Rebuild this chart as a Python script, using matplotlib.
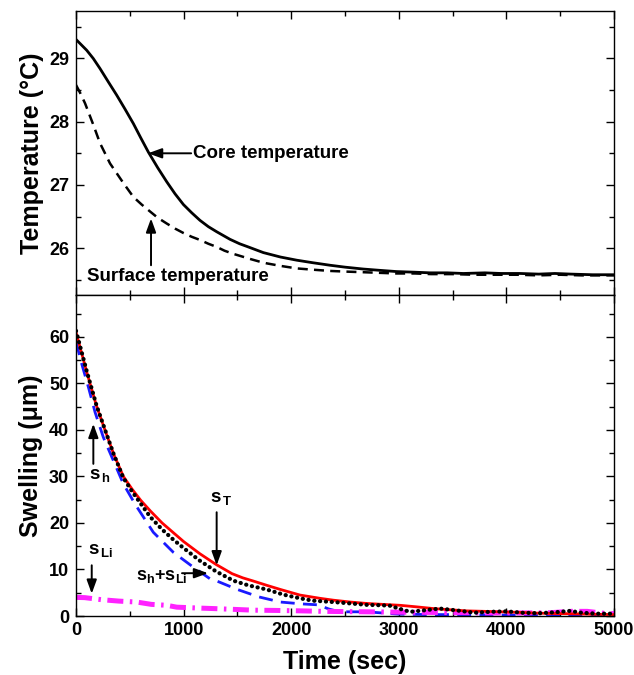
import matplotlib
matplotlib.use("Agg")
import matplotlib.pyplot as plt
from matplotlib.ticker import MultipleLocator

plt.rcParams['font.family'] = ['Liberation Sans', 'DejaVu Sans']
plt.rcParams['font.weight'] = 'bold'
plt.rcParams['mathtext.fontset'] = 'custom'
plt.rcParams['mathtext.rm'] = 'Liberation Sans:bold'
plt.rcParams['mathtext.bf'] = 'Liberation Sans:bold'
plt.rcParams['mathtext.it'] = 'Liberation Sans:bold'

# ---- Temperature data ----
t_core = [0, 99, 160, 223, 300, 378, 455, 533, 600, 672, 760, 843, 920, 998, 1075,
          1152, 1230, 1307, 1431, 1520, 1600, 1741, 1900, 2051, 2200, 2361, 2500,
          2670, 2820, 2980, 3150, 3290, 3450, 3600, 3800, 3950, 4126, 4300, 4450,
          4600, 4800, 5000]
T_core = [29.30, 29.13, 29.00, 28.84, 28.63, 28.42, 28.20, 27.97, 27.75, 27.52,
          27.27, 27.05, 26.86, 26.69, 26.56, 26.44, 26.34, 26.26, 26.14, 26.07,
          26.02, 25.93, 25.86, 25.81, 25.77, 25.73, 25.70, 25.67, 25.65, 25.63,
          25.62, 25.61, 25.61, 25.60, 25.61, 25.60, 25.60, 25.59, 25.60, 25.59,
          25.58, 25.58]

t_surf = [0, 40, 84, 161, 223, 316, 440, 533, 610, 688, 760, 843, 920, 998, 1075,
          1152, 1230, 1307, 1380, 1462, 1540, 1617, 1700, 1772, 1900, 2051, 2200,
          2361, 2500, 2670, 2820, 2980, 3150, 3300, 3500, 3700, 3900, 4100, 4300,
          4500, 4700, 5000]
T_surf = [28.58, 28.45, 28.29, 27.95, 27.66, 27.34, 27.03, 26.81, 26.69, 26.58,
          26.48, 26.39, 26.31, 26.24, 26.18, 26.13, 26.07, 26.02, 25.96, 25.91,
          25.87, 25.83, 25.79, 25.76, 25.72, 25.68, 25.66, 25.64, 25.63, 25.62,
          25.61, 25.60, 25.60, 25.59, 25.59, 25.58, 25.58, 25.58, 25.57, 25.58,
          25.57, 25.57]

# ---- Swelling data ----
t_T = [0, 100, 190, 270, 350, 440, 520, 600, 690, 800, 900, 1000, 1150, 1300, 1450,
       1550, 1650, 1772, 1900, 2082, 2268, 2392, 2550, 2701, 2850, 3011, 3150, 3321,
       3500, 3631, 3800, 3941, 4100, 4250, 4400, 4560, 4750, 5000]
s_T = [61.0, 52.4, 45.2, 39.9, 34.8, 30.0, 27.3, 24.9, 22.6, 20.0, 18.0, 16.0, 13.4,
       11.1, 9.1, 8.2, 7.5, 6.6, 5.7, 4.5, 3.8, 3.4, 3.0, 2.7, 2.5, 2.3, 2.0, 1.6,
       1.3, 1.1, 1.0, 0.9, 0.8, 0.65, 0.55, 0.5, 0.4, 0.3]

t_sum = [0, 100, 190, 270, 350, 440, 520, 600, 690, 800, 900, 1000, 1150, 1300,
         1462, 1600, 1772, 1927, 2082, 2200, 2392, 2550, 2701, 2850, 2918, 3000,
         3104, 3228, 3383, 3538, 3700, 3850, 4000, 4150, 4300, 4450, 4591, 4700,
         4850, 5000]
s_sum = [61.3, 52.6, 45.3, 40.0, 34.8, 29.7, 26.8, 24.2, 21.3, 18.6, 16.5, 14.6,
         11.9, 9.6, 7.6, 6.6, 5.7, 4.6, 3.8, 3.3, 3.0, 2.7, 2.4, 2.3, 2.2, 1.6, 0.9,
         1.2, 1.6, 1.2, 0.7, 0.9, 1.0, 0.7, 0.6, 0.8, 1.1, 0.7, 0.5, 0.5]

t_h = [0, 53, 115, 177, 254, 347, 440, 550, 718, 904, 1090, 1245, 1300, 1500, 1700,
       1900, 2100, 2250, 2350, 2450, 2700, 3000, 3300, 3600, 4000, 4500, 5000]
s_h = [59.0, 54.2, 49.2, 43.8, 38.4, 33.4, 28.4, 24.0, 18.0, 13.7, 10.5, 8.0, 7.6,
       5.7, 4.1, 3.0, 2.6, 2.4, 1.5, 0.9, 0.9, 0.4, 0.3, 0.3, 0.2, 0.2, 0.2]

t_Li = [0, 80, 240, 400, 564, 700, 843, 936, 1150, 1276, 1494, 1650, 1850, 2100,
        2300, 2500, 2700, 2918, 3150, 3400, 3650, 3900, 4150, 4400, 4600, 4750,
        4900, 5000]
s_Li = [4.0, 3.95, 3.5, 3.2, 3.0, 2.5, 2.3, 1.9, 1.7, 1.6, 1.4, 1.25, 1.2, 1.1, 1.0,
        0.95, 0.9, 0.85, 0.8, 0.75, 0.7, 0.65, 0.65, 0.7, 1.0, 1.0, 0.6, 0.5]

fig = plt.figure(figsize=(6.34, 6.75), dpi=100)
ax1 = fig.add_axes([0.1199, 0.5630, 0.8486, 0.4207])
ax2 = fig.add_axes([0.1199, 0.0874, 0.8486, 0.4756])

ax1.plot(t_core, T_core, color='black', lw=2.0)
ax1.plot(t_surf, T_surf, color='black', lw=1.8, ls=(0, (4, 2.5)))
ax1.set_xlim(0, 5000)
ax1.set_ylim(25.26, 29.75)
ax1.yaxis.set_major_locator(MultipleLocator(1))
ax1.yaxis.set_minor_locator(MultipleLocator(0.5))
ax1.set_ylabel('Temperature (°C)', fontsize=18, fontweight='bold', labelpad=4)
ax1.tick_params(labelbottom=False)

ax2.plot(t_h, s_h, color='#1a1aff', lw=2.0, ls=(0, (5, 3)))
ax2.plot(t_Li, s_Li, color='#ff22ff', lw=3.6, ls=(0, (3.2, 1.3, 0.5, 1.3)))
ax2.plot(t_T, s_T, color='#ff0000', lw=2.0)
ax2.plot(t_sum, s_sum, color='black', lw=3.0, ls=(0, (0.05, 1.35)),
         dash_capstyle='round')
ax2.set_xlim(0, 5000)
ax2.set_ylim(0, 69)
ax2.yaxis.set_major_locator(MultipleLocator(10))
ax2.yaxis.set_minor_locator(MultipleLocator(5))
ax2.set_ylabel('Swelling (μm)', fontsize=18, fontweight='bold', labelpad=4)
ax2.set_xlabel('Time (sec)', fontsize=18, fontweight='bold', labelpad=8)

for ax in (ax1, ax2):
    ax.xaxis.set_major_locator(MultipleLocator(1000))
    ax.xaxis.set_minor_locator(MultipleLocator(500))
    ax.tick_params(which='both', direction='in', top=True, right=True, width=1.0)
    ax.tick_params(which='major', length=6, labelsize=13)
    ax.tick_params(which='minor', length=3.5)
    ax.tick_params(axis='y', which='major', pad=5)
    ax.tick_params(axis='x', which='major', pad=4)
    for lab in ax.get_xticklabels() + ax.get_yticklabels():
        lab.set_fontweight('bold')
    for sp in ax.spines.values():
        sp.set_linewidth(1.0)

ap = dict(arrowstyle='-|>,head_length=0.55,head_width=0.2', color='black', lw=1.4,
          mutation_scale=15, shrinkA=0, shrinkB=0)
fs = 13.5
ax1.annotate('', xy=(669, 27.50), xytext=(1070, 27.50), arrowprops=ap)
ax1.text(1087, 27.50, 'Core temperature', fontsize=fs, fontweight='bold',
         va='center', ha='left')
ax1.annotate('', xy=(697, 26.47), xytext=(697, 25.73), arrowprops=ap)
ax1.text(948, 25.55, 'Surface temperature', fontsize=fs, fontweight='bold',
         va='center', ha='center')

sfs = 13.5
ax2.annotate('', xy=(161, 41.3), xytext=(161, 32.7), arrowprops=ap)
ax2.text(125, 29.5, r'$\mathbf{s}_{\,\mathbf{h}}$', fontsize=sfs, va='baseline', ha='left')
ax2.annotate('', xy=(1307, 10.9), xytext=(1307, 22.3), arrowprops=ap)
ax2.text(1245, 24.4, r'$\mathbf{s}_{\,\mathbf{T}}$', fontsize=sfs, va='baseline', ha='left')
ax2.annotate('', xy=(146, 4.8), xytext=(146, 10.9), arrowprops=ap)
ax2.text(112, 13.4, r'$\mathbf{s}_{\,\mathbf{Li}}$', fontsize=sfs, va='baseline', ha='left')
ax2.annotate('', xy=(1227, 9.2), xytext=(985, 9.2), arrowprops=ap)
ax2.text(558, 7.65, r'$\mathbf{s}_{\mathbf{h}}$+$\mathbf{s}_{\mathbf{Li}}$',
         fontsize=13, va='baseline', ha='left')

fig.savefig('out.png', dpi=100)
